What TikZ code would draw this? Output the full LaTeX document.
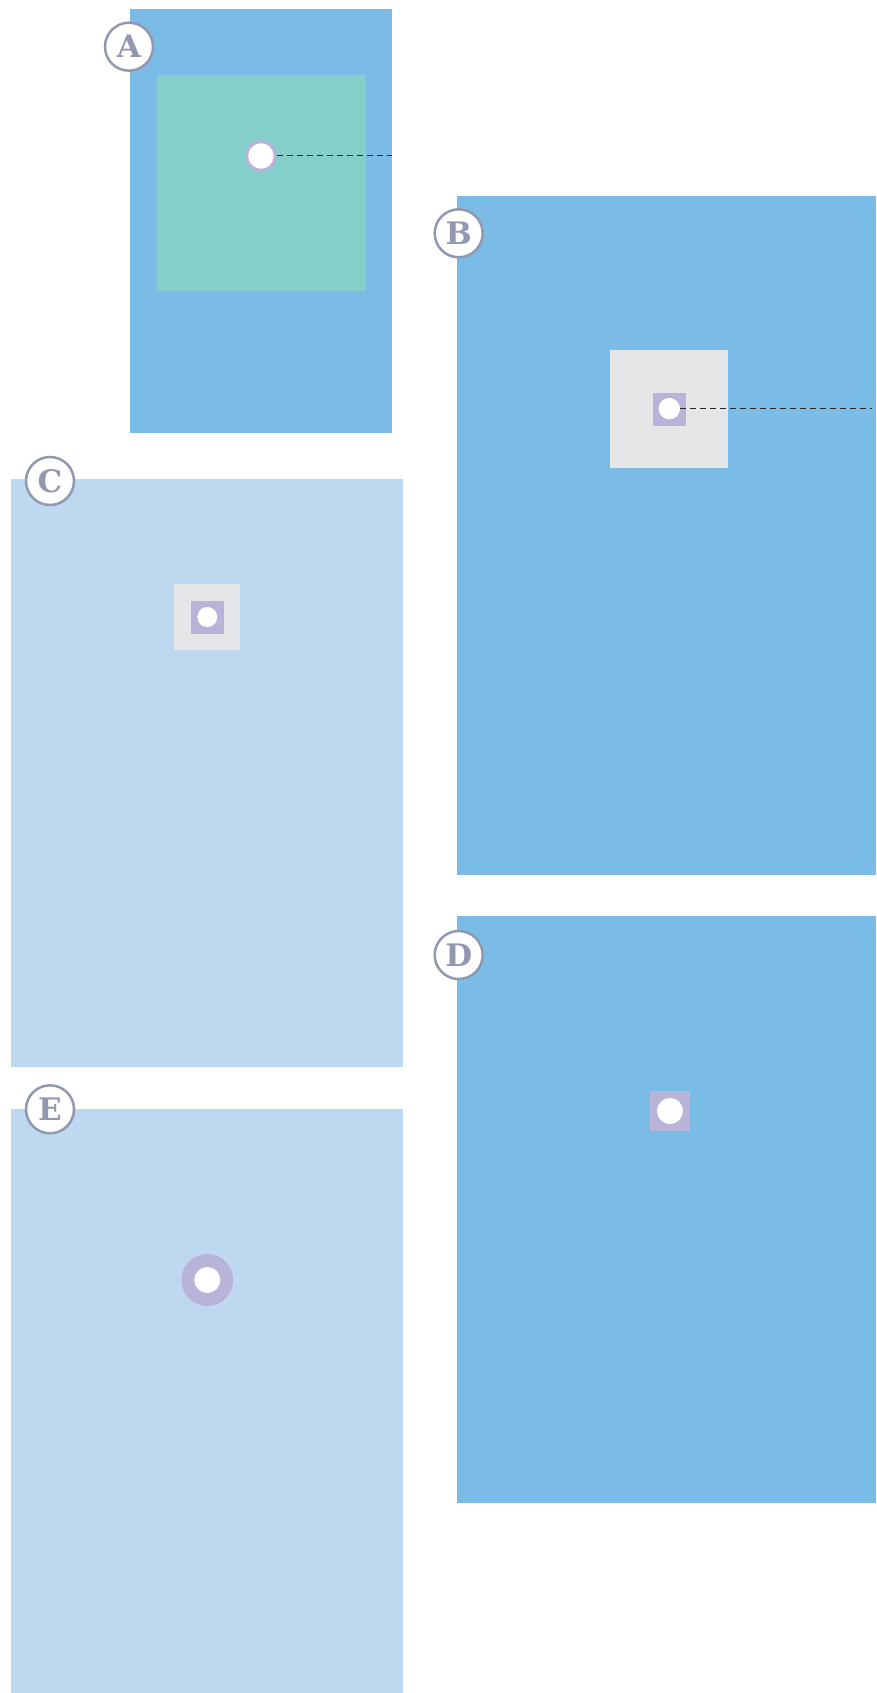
\documentclass[tikz,border=0pt]{standalone}
\usepackage{fontspec}
\setmainfont{DejaVu Serif}
\definecolor{bluemain}{HTML}{7BBCE7}
\definecolor{bluelight}{HTML}{BDD8EF}
\definecolor{greenc}{HTML}{84CFC9}
\definecolor{grayc}{HTML}{E5E6E8}
\definecolor{purplec}{HTML}{B9B3D9}
\definecolor{labgray}{HTML}{9298AF}
\tikzset{
  lab/.style={circle, draw=labgray, line width=2.5pt, fill=white, minimum size=48pt, inner sep=0pt,
    font=\fontsize{31}{31}\selectfont\bfseries, text=labgray},
  whitedot/.style={circle, fill=white, inner sep=0pt},
  dashline/.style={draw=black!85, line width=1pt, dash pattern=on 6pt off 4pt},
}
\begin{document}
\begin{tikzpicture}[x=1pt,y=-1pt]
\useasboundingbox (0,0) rectangle (876,1693);
\fill[white] (0,0) rectangle (876,1693);

% Panel A
\fill[bluemain] (130,9) rectangle (392,433);
\fill[greenc] (157,75) rectangle (366,291);
\node[whitedot, draw=purplec, line width=3pt, minimum size=28.4pt] (adot) at (261,156) {};
\coordinate (aend) at (392,156);
\draw[dashline] (adot.east) -- (aend);
\node[lab] (labA) at (129,46.7) {A};

% Panel B
\fill[bluemain] (457,196) rectangle (876,875);
\fill[grayc] (610,350) rectangle (728,468);
\fill[purplec] (653,393) rectangle (686,426);
\node[whitedot, minimum size=21.4pt] (bdot) at (669.3,408.7) {};
\coordinate (bend) at (872,408.7);
\draw[dashline] (bdot.east) -- (bend);
\node[lab] (labB) at (458.7,233.3) {B};

% Panel C
\fill[bluelight] (11,479) rectangle (403,1067);
\fill[grayc] (174,584) rectangle (240,650);
\fill[purplec] (191,601) rectangle (224,634);
\node[whitedot, minimum size=20pt] (cdot) at (207.3,617) {};
\node[lab] (labC) at (50,481) {C};

% Panel D
\fill[bluemain] (457,916) rectangle (876,1503);
\fill[purplec] (650,1091) rectangle (690,1131);
\node[whitedot, minimum size=26pt] (ddot) at (670,1111) {};
\node[lab] (labD) at (458.7,955) {D};

% Panel E
\fill[bluelight] (11,1109) rectangle (403,1693);
\node[circle, fill=purplec, inner sep=0pt, minimum size=52pt] (ering) at (207.3,1280) {};
\node[whitedot, minimum size=26pt] (edot) at (207.3,1280) {};
\node[lab] (labE) at (50,1109.3) {E};
\end{tikzpicture}
\end{document}
